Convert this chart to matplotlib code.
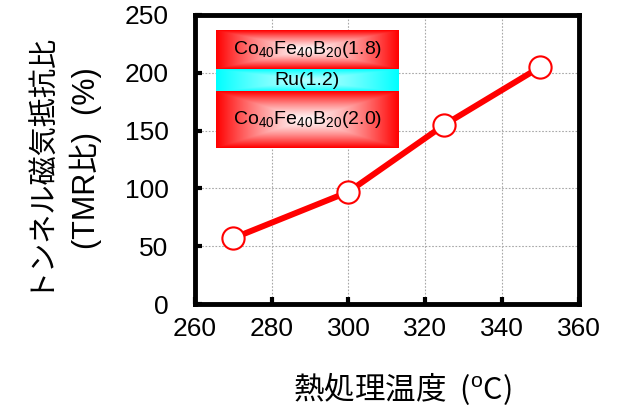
import numpy as np
import matplotlib
matplotlib.use("Agg")
import matplotlib.pyplot as plt
from matplotlib.colors import to_rgb

plt.rcParams['font.family'] = ['Liberation Sans', 'DejaVu Sans']
plt.rcParams['mathtext.fontset'] = 'custom'
plt.rcParams['mathtext.rm'] = 'Liberation Sans'
plt.rcParams['mathtext.it'] = 'Liberation Sans:italic'

# data
temperature = [270, 300, 325, 350]          # anneal temperature (oC)
tmr_ratio = [57, 97, 155, 205]              # TMR ratio (%)

x_ticks = [260, 280, 300, 320, 340, 360]
y_ticks = [0, 50, 100, 150, 200, 250]

layer_labels = [r"Co$_{40}$Fe$_{40}$B$_{20}$(1.8)",
                "Ru(1.2)",
                r"Co$_{40}$Fe$_{40}$B$_{20}$(2.0)"]
layer_colors = ['#ff0000', '#00ffff', '#ff0000']
layer_centers = ['#fff4f4', '#b0ffff', '#fff4f4']

ylabel_lines = ["トンネル磁気抵抗比", "(TMR比)  (%)"]
xlabel = "熱処理温度  ($^{\\mathrm{o}}$C)"
cjk = ['Noto Sans CJK JP', 'Liberation Sans', 'DejaVu Sans']
latin_first = ['Liberation Sans', 'Noto Sans CJK JP', 'DejaVu Sans']

fig = plt.figure(figsize=(6.19, 4.12), dpi=100)
ax = fig.add_axes([0.315, 0.262, 0.62, 0.702])

ax.grid(True, color='#a8a8a8', linestyle=(0, (1.5, 1.5)), linewidth=0.8)
ax.set_axisbelow(True)
ax.plot(temperature, tmr_ratio, color='#ff0000', linewidth=4.3,
        marker='o', markersize=16, markerfacecolor='white',
        markeredgecolor='#ff0000', markeredgewidth=1.5, zorder=5)

ax.set_xticks(x_ticks)
ax.set_yticks(y_ticks)
ax.tick_params(axis='both', direction='in', length=5, width=3, labelsize=19)
ax.tick_params(axis='x', pad=9)
ax.tick_params(axis='y', pad=19)
for sp in ax.spines.values():
    sp.set_linewidth(3.5)
    sp.set_color('black')


def grad_box(x0, x1, y0, y1, edge, center):
    u = np.linspace(-1, 1, 200)
    v = np.linspace(-1, 1, 60)
    U, V = np.meshgrid(u, v)
    t = np.maximum(np.abs(U), np.abs(V)) ** 1.4
    e = np.array(to_rgb(edge))
    c = np.array(to_rgb(center))
    img = c[None, None, :] * (1 - t[..., None]) + e[None, None, :] * t[..., None]
    ax.imshow(img, extent=[x0, x1, y0, y1], transform=ax.transAxes,
              aspect='auto', interpolation='bilinear', zorder=3)


# layer stack inset, axes fractions
bx0, bx1 = 0.055, 0.531
edges = [0.945, 0.813, 0.734, 0.540]
for i, lab in enumerate(layer_labels):
    top, bot = edges[i], edges[i + 1]
    grad_box(bx0, bx1, bot, top, layer_colors[i], layer_centers[i])
    ax.text((bx0 + bx1) / 2, (top + bot) / 2, lab, transform=ax.transAxes,
            ha='center', va='center', fontsize=14, zorder=4)

ax.set_xlim(260, 360)
ax.set_ylim(0, 250)

fig.text(0.060, 0.612, ylabel_lines[0], rotation=90, ha='center', va='center',
         fontsize=21, family=cjk)
fig.text(0.139, 0.616, ylabel_lines[1], rotation=90, ha='center', va='center',
         fontsize=22, family=latin_first)
fig.text(0.650, 0.056, xlabel, ha='center', va='center', fontsize=22, family=cjk)

fig.savefig("out.png", dpi=100)
